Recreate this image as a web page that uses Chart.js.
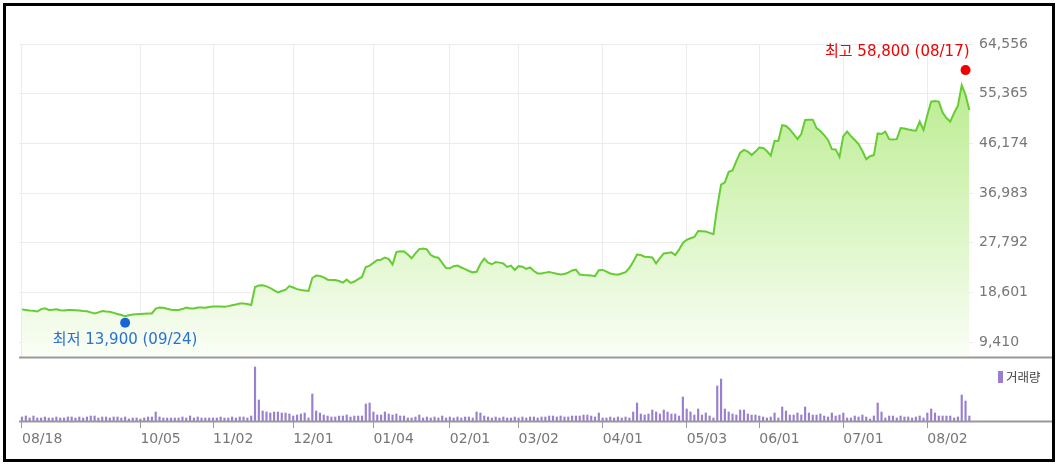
<!DOCTYPE html>
<html lang="ko">
<head>
<meta charset="utf-8">
<title>주가 차트</title>
<script src="https://cdn.jsdelivr.net/npm/chart.js@4.4.1/dist/chart.umd.min.js"></script>
<style>
  html, body { margin: 0; padding: 0; background: #fff; }
  #wrap { position: relative; width: 1059px; height: 467px; overflow: hidden; }
  #priceChart { position: absolute; left: 0; top: 0; }
  #volChart { position: absolute; left: 0; top: 360px; }
  #volLegend { position: absolute; left: 998px; top: 368px; font: 12.5px "Noto Sans CJK KR", sans-serif; color: #444; line-height: 18px; white-space: nowrap; }
  #volLegend i { display: inline-block; width: 5px; height: 12px; background: #9a7fd1; vertical-align: -1px; margin-right: 3px; }
  #frame { position: absolute; left: 3px; top: 3px; width: 1052px; height: 459px; box-sizing: border-box; border: 3px solid #000; pointer-events: none; }
</style>
</head>
<body>
<div id="wrap">
  <canvas id="priceChart" width="1059" height="380"></canvas>
  <canvas id="volChart" width="1059" height="102"></canvas>
  <div id="volLegend"><i></i>거래량</div>
  <div id="frame"></div>
</div>
<script>
// trading days, 2020-08-18 .. 2021-08-18
const months = ['2020-08', '2020-09', '2020-10', '2020-11', '2020-12', '2021-01', '2021-02',
  '2021-03', '2021-04', '2021-05', '2021-06', '2021-07', '2021-08'];
const monthDays = [
  [18, 19, 20, 21, 24, 25, 26, 27, 28, 31],
  [1, 2, 3, 4, 7, 8, 9, 10, 11, 14, 15, 16, 17, 18, 21, 22, 23, 24, 25, 28, 29],
  [5, 6, 7, 8, 12, 13, 14, 15, 16, 19, 20, 21, 22, 23, 26, 27, 28, 29, 30],
  [2, 3, 4, 5, 6, 9, 10, 11, 12, 13, 16, 17, 18, 19, 20, 23, 24, 25, 26, 27, 30],
  [1, 2, 3, 4, 7, 8, 9, 10, 11, 14, 15, 16, 17, 18, 21, 22, 23, 24, 28, 29, 30],
  [4, 5, 6, 7, 8, 11, 12, 13, 14, 15, 18, 19, 20, 21, 22, 25, 26, 27, 28, 29],
  [1, 2, 3, 4, 5, 8, 9, 10, 15, 16, 17, 18, 19, 22, 23, 24, 25, 26],
  [2, 3, 4, 5, 8, 9, 10, 11, 12, 15, 16, 17, 18, 19, 22, 23, 24, 25, 26, 29, 30, 31],
  [1, 2, 5, 6, 7, 8, 9, 12, 13, 14, 15, 16, 19, 20, 21, 22, 23, 26, 27, 28, 29, 30],
  [3, 4, 6, 7, 10, 11, 12, 13, 14, 17, 18, 20, 21, 24, 25, 26, 27, 28, 31],
  [1, 2, 3, 4, 7, 8, 9, 10, 11, 14, 15, 16, 17, 18, 21, 22, 23, 24, 25, 28, 29, 30],
  [1, 2, 5, 6, 7, 8, 9, 12, 13, 14, 15, 16, 19, 20, 21, 22, 23, 26, 27, 28, 29, 30],
  [2, 3, 4, 5, 6, 9, 10, 11, 12, 13, 17, 18]
];
const dates = [];
months.forEach((m, k) => monthDays[k].forEach(d => dates.push(m + '-' + String(d).padStart(2, '0'))));

// close price (won), one per trading day
const closePrice = [
  15450, 15350, 15250, 15200, 15050, 15500, 15650, 15350, 15400, 15450,
  15300, 15250, 15350, 15350, 15300, 15250, 15150, 15100, 14900, 14700,
  14900, 15150, 15050, 15000, 14800, 14600, 14400, 14200, 14350, 14500,
  14550, 14600, 14650, 14700, 14700, 15600, 15800, 15750, 15550, 15400,
  15350, 15350, 15500, 15800, 15600, 15600, 15800, 15800, 15750, 15900,
  16000, 16000, 16000, 15950, 16050, 16200, 16350, 16550, 16550, 16450,
  16250, 19600, 19850, 19900, 19700, 19400, 18950, 18600, 18850, 19100,
  19750, 19500, 19200, 19050, 18950, 18850, 21250, 21700, 21650, 21350,
  20950, 20900, 20900, 20700, 20400, 20950, 20350, 20600, 21050, 21450,
  23300, 23550, 24050, 24600, 24650, 25050, 24750, 23750, 26050, 26200,
  26150, 25600, 24900, 25800, 26600, 26700, 26550, 25500, 25150, 25000,
  24050, 23100, 23050, 23450, 23550, 23200, 22900, 22550, 22300, 22400,
  23850, 24850, 24100, 23800, 24200, 24100, 23950, 23300, 23550, 22750,
  23450, 23350, 22950, 23200, 22550, 22100, 22100, 22250, 22350, 22200,
  22050, 21900, 22000, 22250, 22650, 22800, 21900, 21800, 21750, 21700,
  21600, 22700, 22750, 22450, 22100, 21950, 21850, 22100, 22350, 23100,
  24250, 25600, 25500, 25200, 25150, 25050, 23950, 24950, 25800, 25900,
  26000, 25500, 26500, 27750, 28300, 28600, 28850, 29950, 29900, 29850,
  29600, 29350, 34400, 38550, 38950, 40900, 41150, 42900, 44450, 44950,
  44650, 44000, 44650, 45400, 45300, 44750, 43900, 46600, 46650, 49550,
  49400, 48750, 47900, 46950, 47900, 50500, 50550, 50550, 49000, 48450,
  47700, 46800, 45100, 45050, 43650, 47500, 48350, 47500, 46800, 46050,
  44750, 43250, 43800, 44000, 48000, 47900, 48350, 46950, 46900, 46950,
  49000, 48900, 48750, 48600, 48500, 50200, 48650, 51400, 53900, 54000,
  53900, 51850, 50850, 50200, 51800, 53150, 56950, 55100, 52350
];

// volume (x100,000 shares), one per trading day
const volume = [
  4, 5, 3, 5, 3, 3, 4, 3, 3, 4,
  3, 3, 4, 4, 3, 4, 3, 4, 5, 5,
  3, 4, 4, 3, 4, 4, 3, 4, 2, 3,
  3, 2, 3, 4, 4, 9, 4, 3, 3, 3,
  3, 3, 4, 3, 5, 3, 4, 3, 3, 3,
  3, 3, 4, 3, 3, 4, 3, 4, 4, 3,
  5, 54, 21, 10, 9, 8, 9, 9, 8, 8,
  7, 5, 6, 7, 8, 3, 27, 10, 8, 6,
  5, 4, 4, 5, 5, 6, 4, 5, 5, 5,
  17, 18, 9, 6, 6, 9, 7, 6, 7, 5,
  5, 3, 3, 4, 6, 3, 4, 3, 4, 3,
  5, 3, 4, 3, 4, 3, 4, 4, 3, 9,
  8, 5, 4, 3, 4, 3, 4, 3, 3, 4,
  3, 4, 3, 4, 4, 3, 4, 4, 5, 5,
  4, 5, 4, 4, 5, 5, 5, 6, 6, 5,
  4, 8, 3, 3, 4, 3, 4, 3, 4, 3,
  9, 18, 7, 6, 7, 11, 9, 7, 11, 9,
  7, 7, 5, 24, 12, 9, 6, 12, 6, 8,
  5, 3, 35, 42, 12, 9, 7, 6, 11, 11,
  7, 6, 6, 5, 4, 3, 4, 8, 3, 14,
  10, 6, 6, 8, 6, 14, 8, 6, 6, 7,
  5, 4, 8, 5, 6, 8, 3, 3, 5, 4,
  6, 4, 2, 5, 18, 9, 3, 5, 5, 3,
  5, 4, 4, 3, 4, 5, 3, 8, 12, 8,
  5, 5, 5, 5, 3, 4, 26, 20, 5
];

const priceTicks = [9410, 18601, 27792, 36983, 46174, 55365, 64556];
const tickDates = ['2020-08-18', '2020-10-05', '2020-11-02', '2020-12-01', '2021-01-04', '2021-02-01',
  '2021-03-02', '2021-04-01', '2021-05-03', '2021-06-01', '2021-07-01', '2021-08-02'];

const lowMark = { date: '2020-09-24', value: 13900, label: '최저 13,900 (09/24)', dot: '#1a64d6', color: '#2a70d2' };
const highMark = { date: '2021-08-17', value: 58800, label: '최고 58,800 (08/17)', dot: '#f20000', color: '#f00000' };

const X_MIN = -0.785, X_MAX = 248.95;
const tickFont = { family: 'DejaVu Sans', size: 14 };

function dateTicks(scale) {
  scale.ticks = tickDates.map(d => ({ value: dates.indexOf(d) }));
}

function areaGradient(context) {
  const { ctx, chartArea } = context.chart;
  if (!chartArea) return null;
  const g = ctx.createLinearGradient(0, chartArea.top, 0, chartArea.bottom);
  g.addColorStop(0, 'rgb(178, 234, 130)');
  g.addColorStop(1, 'rgb(250, 254, 246)');
  return g;
}

// dark line under each panel, running to the frame
const bottomLine = {
  id: 'bottomLine',
  afterDraw(chart) {
    const { ctx, chartArea } = chart;
    ctx.save();
    ctx.strokeStyle = '#999';
    ctx.lineWidth = 2;
    ctx.beginPath();
    ctx.moveTo(chartArea.left, chartArea.bottom + 0.5);
    ctx.lineTo(chart.width - 6, chartArea.bottom + 0.5);
    ctx.stroke();
    ctx.restore();
  }
};

// low / high markers with their labels
const marks = {
  id: 'marks',
  afterDatasetsDraw(chart) {
    const { ctx, chartArea, scales: { x, y } } = chart;
    ctx.save();
    ctx.font = '15px "DejaVu Sans", "Noto Sans CJK KR", sans-serif';
    ctx.textBaseline = 'middle';
    [[lowMark, 1], [highMark, -1]].forEach(([m, dir]) => {
      const px = x.getPixelForValue(dates.indexOf(m.date));
      const py = y.getPixelForValue(m.value) + dir * 5;
      ctx.fillStyle = m.dot;
      ctx.beginPath();
      ctx.arc(px, py, 5, 0, Math.PI * 2);
      ctx.fill();
      const w = ctx.measureText(m.label).width;
      let tx = px;
      ctx.textAlign = 'center';
      if (px + w / 2 > chartArea.right) {
        tx = px + 4;
        ctx.textAlign = 'right';
      }
      ctx.fillStyle = m.color;
      ctx.fillText(m.label, tx, py + dir * 17.5);
    });
    ctx.restore();
  }
};

new Chart(document.getElementById('priceChart'), {
  type: 'line',
  data: {
    datasets: [{
      data: closePrice.map((v, i) => ({ x: i, y: v })),
      borderColor: '#66cc33',
      borderWidth: 2,
      pointRadius: 0,
      tension: 0,
      fill: 'start',
      backgroundColor: areaGradient
    }]
  },
  options: {
    responsive: false,
    animation: false,
    devicePixelRatio: 1,
    layout: { padding: { left: 19, top: 44, right: 0, bottom: 0 } },
    plugins: { legend: { display: false }, tooltip: { enabled: false } },
    scales: {
      x: {
        type: 'linear', min: X_MIN, max: X_MAX,
        afterBuildTicks: dateTicks,
        ticks: { display: false },
        grid: { color: '#ececec', drawTicks: false },
        border: { display: false },
        afterFit: s => { s.height = 23; }
      },
      y: {
        type: 'linear', position: 'right', min: 6636, max: 64556,
        afterBuildTicks: s => { s.ticks = priceTicks.map(v => ({ value: v })); },
        ticks: { padding: 6, color: '#777', font: tickFont, callback: v => v.toLocaleString('en-US') },
        grid: { color: '#ececec', drawTicks: false },
        border: { display: false },
        afterFit: s => { s.width = 86; }
      }
    }
  },
  plugins: [marks, bottomLine]
});

new Chart(document.getElementById('volChart'), {
  type: 'bar',
  data: {
    datasets: [{
      data: volume.map((v, i) => ({ x: i, y: v })),
      backgroundColor: '#9a7fd1',
      barThickness: 1.5
    }]
  },
  options: {
    responsive: false,
    animation: false,
    devicePixelRatio: 1,
    layout: { padding: { left: 19, top: 2, right: 86, bottom: 0 } },
    plugins: { legend: { display: false }, tooltip: { enabled: false } },
    scales: {
      x: {
        type: 'linear', min: X_MIN, max: X_MAX, offset: false,
        afterBuildTicks: dateTicks,
        ticks: {
          autoSkip: false, maxRotation: 0, align: 'start', padding: 3,
          color: '#777', font: tickFont,
          callback: v => dates[v].slice(5).replace('-', '/')
        },
        grid: { offset: false, drawOnChartArea: false, drawTicks: true, tickLength: 7, color: '#999' },
        border: { display: false },
        afterFit: s => { s.height = 41; }
      },
      y: { display: false, min: 0, max: 59 }
    }
  },
  plugins: [bottomLine]
});
</script>
</body>
</html>
